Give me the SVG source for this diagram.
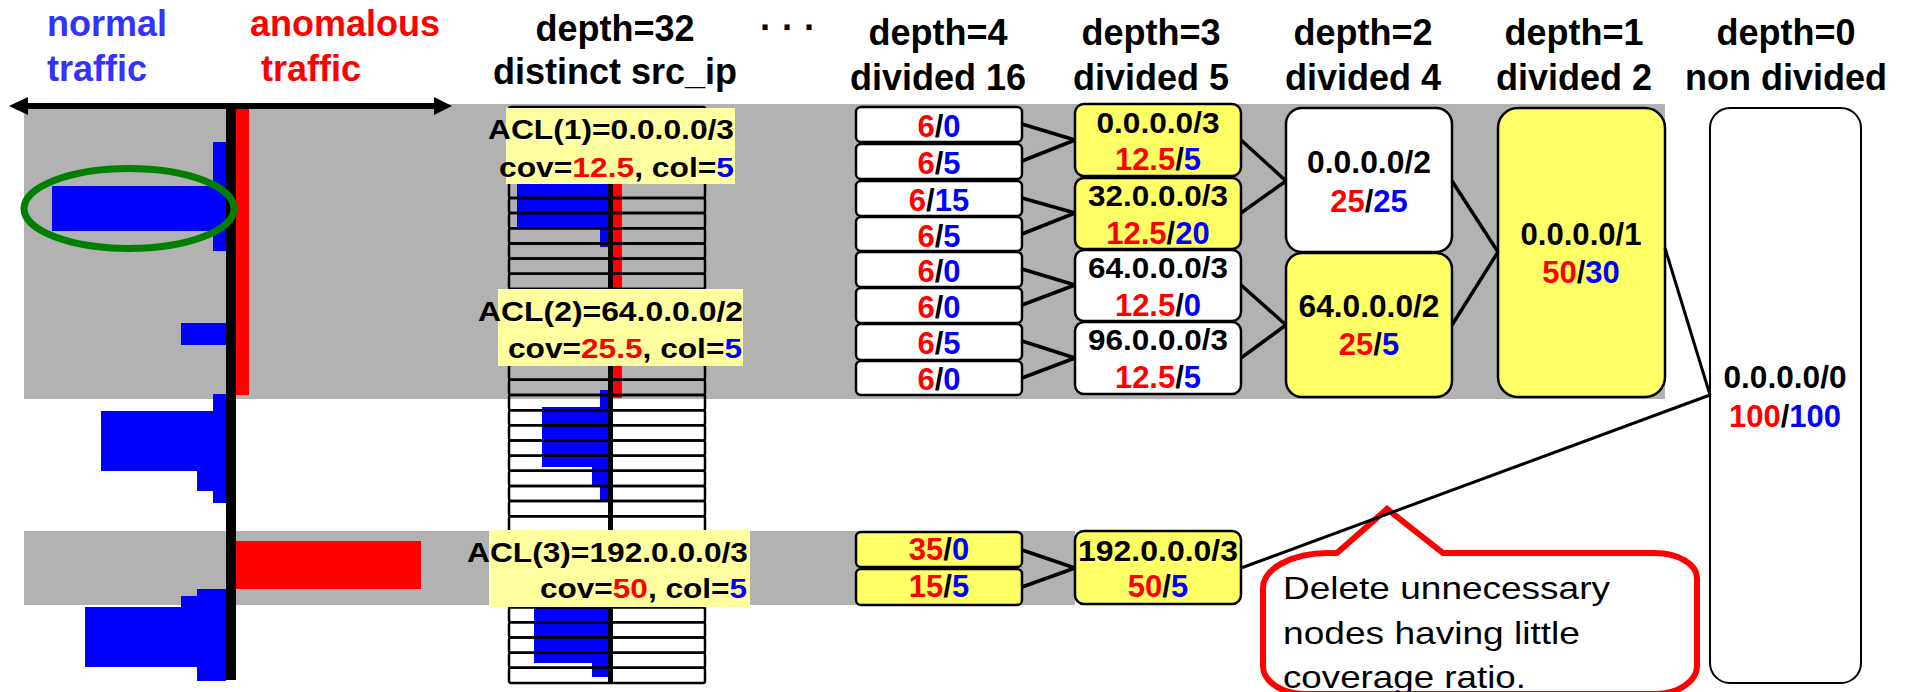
<svg xmlns="http://www.w3.org/2000/svg" xmlns:xlink="http://www.w3.org/1999/xlink" width="1908" height="692" viewBox="0 0 1908 692">
<style>
text{font-family:"Liberation Sans",Arial,sans-serif;font-weight:bold}
.h{font-size:36px;text-anchor:middle;fill:#000}
.n{font-size:31px;text-anchor:middle;fill:#000}
.n1{font-size:29px;text-anchor:middle;fill:#000}
.acl{font-size:28.5px;fill:#000}
.r{fill:#ff0000}
.b{fill:#0000ff}
.gray{fill:#b2b2b2}
.bar{fill:#0000ff}
.red{fill:#ff0000}
.box{stroke:#000;stroke-width:2.5}
.y{fill:#ffff66}
.w{fill:#ffffff}
.lbl{fill:#ffffa0}
.row{fill:none;stroke:#000;stroke-width:2.5}
.con line{stroke:#000;stroke-width:3.5}
.call{font-family:"Liberation Sans",Arial,sans-serif;font-weight:normal;font-size:32px;fill:#000}
</style>
<defs>
<rect id="row" class="row" x="509" y="0" width="196" height="15.16" rx="2"/>
</defs>

<g id="background">
<rect class="gray" x="24" y="104" width="1641" height="295"/>
<rect class="gray" x="24" y="531" width="1051" height="74"/>
</g>

<g id="legend">
<text x="47" y="36" style="font-size:36px;fill:#3333ff">normal</text>
<text x="47" y="81" style="font-size:36px;fill:#3333ff">traffic</text>
<text x="250" y="36" style="font-size:36px;fill:#ff0000">anomalous</text>
<text x="261" y="81" style="font-size:36px;fill:#ff0000">traffic</text>
<line x1="25" y1="106" x2="437" y2="106" stroke="#000" stroke-width="6"/>
<polygon points="9,106 28,97 28,115" fill="#000"/>
<polygon points="452,106 434,97 434,115" fill="#000"/>
</g>

<g id="histogram-left">
<rect class="red" x="236" y="109" width="13" height="286"/>
<rect class="red" x="236" y="541" width="185" height="48"/>
<rect class="bar" x="213" y="142" width="13" height="109"/>
<rect class="bar" x="52" y="186" width="174" height="45"/>
<rect class="bar" x="181" y="323" width="45" height="22"/>
<rect class="bar" x="213" y="394" width="13" height="109"/>
<rect class="bar" x="101" y="411" width="125" height="60"/>
<rect class="bar" x="197" y="471" width="29" height="20"/>
<rect class="bar" x="197" y="589" width="29" height="92"/>
<rect class="bar" x="181" y="596" width="45" height="11"/>
<rect class="bar" x="85" y="607" width="141" height="60"/>
<rect x="226" y="104" width="10" height="576" fill="#000"/>
<ellipse cx="129" cy="208.5" rx="105" ry="40" fill="none" stroke="#008000" stroke-width="7"/>
</g>

<g id="depth32">
<text class="h" x="615" y="41">depth=32</text>
<text class="h" x="615" y="84">distinct src_ip</text>
<text x="788" y="40" style="font-size:36px;text-anchor:middle">· · ·</text>
<rect class="red" x="613" y="107" width="9" height="291"/>
<rect class="bar" x="600" y="150" width="8" height="97"/>
<rect class="bar" x="517" y="183" width="91" height="45"/>
<rect class="bar" x="600" y="390" width="8" height="110"/>
<rect class="bar" x="542" y="407" width="66" height="60"/>
<rect class="bar" x="592" y="467" width="16" height="18"/>
<rect class="bar" x="534" y="590" width="74" height="73"/>
<rect class="bar" x="592" y="663" width="16" height="14"/>
<use xlink:href="#row" y="107"/><use xlink:href="#row" y="122.16"/><use xlink:href="#row" y="137.32"/><use xlink:href="#row" y="152.47"/>
<use xlink:href="#row" y="167.63"/><use xlink:href="#row" y="182.79"/><use xlink:href="#row" y="197.95"/><use xlink:href="#row" y="213.11"/>
<use xlink:href="#row" y="228.26"/><use xlink:href="#row" y="243.42"/><use xlink:href="#row" y="258.58"/><use xlink:href="#row" y="273.74"/>
<use xlink:href="#row" y="288.9"/><use xlink:href="#row" y="304.05"/><use xlink:href="#row" y="319.21"/><use xlink:href="#row" y="334.37"/>
<use xlink:href="#row" y="349.53"/><use xlink:href="#row" y="364.69"/><use xlink:href="#row" y="379.84"/><use xlink:href="#row" y="395"/>
<use xlink:href="#row" y="410.16"/><use xlink:href="#row" y="425.32"/><use xlink:href="#row" y="440.47"/><use xlink:href="#row" y="455.63"/>
<use xlink:href="#row" y="470.79"/><use xlink:href="#row" y="485.95"/><use xlink:href="#row" y="501.11"/><use xlink:href="#row" y="516.26"/>
<use xlink:href="#row" y="531.42"/><use xlink:href="#row" y="546.58"/><use xlink:href="#row" y="561.74"/><use xlink:href="#row" y="576.9"/>
<use xlink:href="#row" y="592.05"/><use xlink:href="#row" y="607.21"/><use xlink:href="#row" y="622.37"/><use xlink:href="#row" y="637.53"/>
<use xlink:href="#row" y="652.69"/><use xlink:href="#row" y="667.84"/>
<rect x="608" y="107" width="5" height="577" fill="#000"/>
</g>

<g id="acl1">
<rect class="lbl" x="506" y="108" width="229" height="76"/>
<text class="acl" x="488" y="139" textLength="246" lengthAdjust="spacingAndGlyphs">ACL(1)=0.0.0.0/3</text>
<text class="acl" x="499" y="177" textLength="235" lengthAdjust="spacingAndGlyphs">cov=<tspan class="r">12.5</tspan>, col=<tspan class="b">5</tspan></text>
</g>
<g id="acl2">
<rect class="lbl" x="498" y="289" width="245" height="77"/>
<text class="acl" x="478" y="321" textLength="265" lengthAdjust="spacingAndGlyphs">ACL(2)=64.0.0.0/2</text>
<text class="acl" x="508" y="358" textLength="234" lengthAdjust="spacingAndGlyphs">cov=<tspan class="r">25.5</tspan>, col=<tspan class="b">5</tspan></text>
</g>
<g id="acl3">
<rect class="lbl" x="489" y="530" width="261" height="77"/>
<text class="acl" x="467" y="562" textLength="281" lengthAdjust="spacingAndGlyphs">ACL(3)=192.0.0.0/3</text>
<text class="acl" x="540" y="598" textLength="207" lengthAdjust="spacingAndGlyphs">cov=<tspan class="r">50</tspan>, col=<tspan class="b">5</tspan></text>
</g>

<g id="callout">
<path d="M1337 553 L1387 509 L1443 553 L1655 553 A42 25 0 0 1 1697 578 L1697 666 A42 28 0 0 1 1655 694 L1305 694 A42 28 0 0 1 1263 666 L1263 588 A65 35 0 0 1 1328 553 Z" fill="#fff" stroke="#ff0000" stroke-width="6" stroke-linejoin="miter"/>
<text class="call" x="1283" y="599" textLength="327" lengthAdjust="spacingAndGlyphs">Delete unnecessary</text>
<text class="call" x="1283" y="644" textLength="297" lengthAdjust="spacingAndGlyphs">nodes having little</text>
<text class="call" x="1283" y="688" textLength="243" lengthAdjust="spacingAndGlyphs">coverage ratio.</text>
</g>

<g id="depth4">
<text class="h" x="938" y="45">depth=4</text>
<text class="h" x="938" y="90">divided 16</text>
<rect class="box w" x="856" y="107" width="166" height="35" rx="5"/>
<text class="n" x="939" y="137"><tspan class="r">6</tspan>/<tspan class="b">0</tspan></text>
<rect class="box w" x="856" y="144" width="166" height="35" rx="5"/>
<text class="n" x="939" y="174"><tspan class="r">6</tspan>/<tspan class="b">5</tspan></text>
<rect class="box w" x="856" y="181" width="166" height="35" rx="5"/>
<text class="n" x="939" y="211"><tspan class="r">6</tspan>/<tspan class="b">15</tspan></text>
<rect class="box w" x="856" y="217" width="166" height="34" rx="5"/>
<text class="n" x="939" y="247"><tspan class="r">6</tspan>/<tspan class="b">5</tspan></text>
<rect class="box w" x="856" y="252" width="166" height="35" rx="5"/>
<text class="n" x="939" y="282"><tspan class="r">6</tspan>/<tspan class="b">0</tspan></text>
<rect class="box w" x="856" y="288" width="166" height="35" rx="5"/>
<text class="n" x="939" y="318"><tspan class="r">6</tspan>/<tspan class="b">0</tspan></text>
<rect class="box w" x="856" y="324" width="166" height="36" rx="5"/>
<text class="n" x="939" y="354"><tspan class="r">6</tspan>/<tspan class="b">5</tspan></text>
<rect class="box w" x="856" y="361" width="166" height="34" rx="5"/>
<text class="n" x="939" y="390"><tspan class="r">6</tspan>/<tspan class="b">0</tspan></text>
<rect class="box y" x="856" y="532" width="166" height="35" rx="5"/>
<text class="n" x="939" y="560"><tspan class="r">35</tspan>/<tspan class="b">0</tspan></text>
<rect class="box y" x="856" y="569" width="166" height="36" rx="5"/>
<text class="n" x="939" y="597"><tspan class="r">15</tspan>/<tspan class="b">5</tspan></text>
</g>

<g id="depth3">
<text class="h" x="1151" y="45">depth=3</text>
<text class="h" x="1151" y="90">divided 5</text>
<rect class="box y" x="1075" y="104" width="166" height="72" rx="9"/>
<text class="n1" x="1158" y="133" textLength="123" lengthAdjust="spacingAndGlyphs">0.0.0.0/3</text>
<text class="n" x="1158" y="170"><tspan class="r">12.5</tspan>/<tspan class="b">5</tspan></text>
<rect class="box y" x="1075" y="178" width="166" height="71" rx="9"/>
<text class="n1" x="1158" y="206" textLength="140" lengthAdjust="spacingAndGlyphs">32.0.0.0/3</text>
<text class="n" x="1158" y="244"><tspan class="r">12.5</tspan>/<tspan class="b">20</tspan></text>
<rect class="box w" x="1075" y="250" width="166" height="71" rx="9"/>
<text class="n1" x="1158" y="278" textLength="140" lengthAdjust="spacingAndGlyphs">64.0.0.0/3</text>
<text class="n" x="1158" y="316"><tspan class="r">12.5</tspan>/<tspan class="b">0</tspan></text>
<rect class="box w" x="1075" y="322" width="166" height="72" rx="9"/>
<text class="n1" x="1158" y="350" textLength="140" lengthAdjust="spacingAndGlyphs">96.0.0.0/3</text>
<text class="n" x="1158" y="388"><tspan class="r">12.5</tspan>/<tspan class="b">5</tspan></text>
<rect class="box y" x="1075" y="531" width="166" height="73" rx="9"/>
<text class="n1" x="1158" y="561" textLength="160" lengthAdjust="spacingAndGlyphs">192.0.0.0/3</text>
<text class="n" x="1158" y="597"><tspan class="r">50</tspan>/<tspan class="b">5</tspan></text>
</g>

<g id="depth2">
<text class="h" x="1363" y="45">depth=2</text>
<text class="h" x="1363" y="90">divided 4</text>
<rect class="box w" x="1286" y="108" width="166" height="144" rx="16"/>
<text class="n" x="1369" y="173" textLength="124" lengthAdjust="spacingAndGlyphs">0.0.0.0/2</text>
<text class="n" x="1369" y="212"><tspan class="r">25</tspan>/<tspan class="b">25</tspan></text>
<rect class="box y" x="1286" y="253" width="166" height="144" rx="16"/>
<text class="n" x="1369" y="317" textLength="141" lengthAdjust="spacingAndGlyphs">64.0.0.0/2</text>
<text class="n" x="1369" y="355"><tspan class="r">25</tspan>/<tspan class="b">5</tspan></text>
</g>

<g id="depth1">
<text class="h" x="1574" y="45">depth=1</text>
<text class="h" x="1574" y="90">divided 2</text>
<rect class="box y" x="1498" y="108" width="167" height="289" rx="20"/>
<text class="n" x="1581" y="245" textLength="121" lengthAdjust="spacingAndGlyphs">0.0.0.0/1</text>
<text class="n" x="1581" y="283"><tspan class="r">50</tspan>/<tspan class="b">30</tspan></text>
</g>

<g id="depth0">
<text class="h" x="1786" y="45">depth=0</text>
<text class="h" x="1786" y="90">non divided</text>
<rect class="w" x="1710" y="108" width="151" height="575" rx="20" stroke="#000" stroke-width="2"/>
<text class="n" x="1785" y="388" textLength="123" lengthAdjust="spacingAndGlyphs">0.0.0.0/0</text>
<text class="n" x="1785" y="427"><tspan class="r">100</tspan>/<tspan class="b">100</tspan></text>
</g>

<g id="connectors" class="con">
<line x1="1022" y1="124" x2="1075" y2="140"/>
<line x1="1022" y1="161" x2="1075" y2="140"/>
<line x1="1022" y1="198" x2="1075" y2="213"/>
<line x1="1022" y1="234" x2="1075" y2="213"/>
<line x1="1022" y1="269" x2="1075" y2="285"/>
<line x1="1022" y1="305" x2="1075" y2="285"/>
<line x1="1022" y1="341" x2="1075" y2="358"/>
<line x1="1022" y1="378" x2="1075" y2="358"/>
<line x1="1022" y1="550" x2="1075" y2="568"/>
<line x1="1022" y1="587" x2="1075" y2="568"/>
<line x1="1241" y1="140" x2="1286" y2="181"/>
<line x1="1241" y1="213" x2="1286" y2="181"/>
<line x1="1241" y1="285" x2="1286" y2="325"/>
<line x1="1241" y1="358" x2="1286" y2="325"/>
<line x1="1452" y1="181" x2="1498" y2="252"/>
<line x1="1452" y1="325" x2="1498" y2="252"/>
<line x1="1665" y1="248" x2="1710" y2="395" style="stroke-width:3"/>
<line x1="1710" y1="395" x2="1241" y2="568" style="stroke-width:3"/>
</g>
</svg>
